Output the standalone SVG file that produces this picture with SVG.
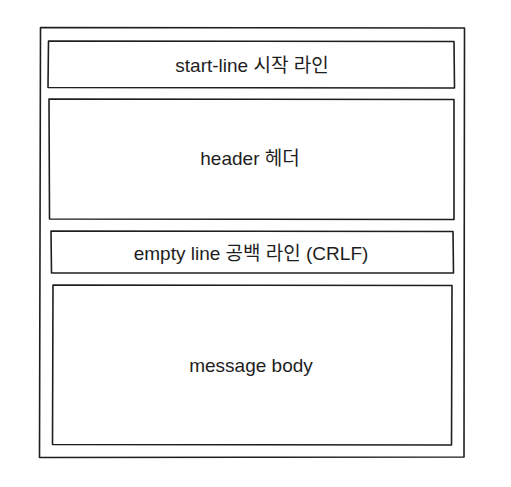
<svg xmlns="http://www.w3.org/2000/svg" width="511" height="487" viewBox="0 0 511 487">
<style>
.box{fill:#ffffff;stroke:#1e1e1e;stroke-width:1.6;stroke-linejoin:round}
.lbl{font-family:"Liberation Sans","Noto Sans CJK KR",sans-serif;font-size:19px;fill:#1e1e1e;text-anchor:middle;dominant-baseline:central}
</style>
<rect width="511" height="487" fill="#ffffff"/>
<g id="message">
<path class="box" d="M40.5 27.5 L464.5 28 L464 457 L39.5 457.5 Z"/>
</g>
<g id="start-line">
<path class="box" d="M48.5 41 L454 41.5 L454.5 88 L48 87.5 Z"/>
<text class="lbl" x="252" y="65">start-line 시작 라인</text>
</g>
<g id="header">
<path class="box" d="M49 99 L454 99.5 L454 219.5 L49.5 219 Z"/>
<text class="lbl" x="250" y="158">header 헤더</text>
</g>
<g id="empty-line">
<path class="box" d="M51 231 L453 231.5 L453.5 273 L51.5 273 Z"/>
<text class="lbl" x="251" y="253">empty line 공백 라인 (CRLF)</text>
</g>
<g id="body">
<path class="box" d="M53 285 L452 285.5 L451.5 445 L52.5 444.5 Z"/>
<text class="lbl" x="251" y="365">message body</text>
</g>
<g id="connectors"></g>
</svg>
